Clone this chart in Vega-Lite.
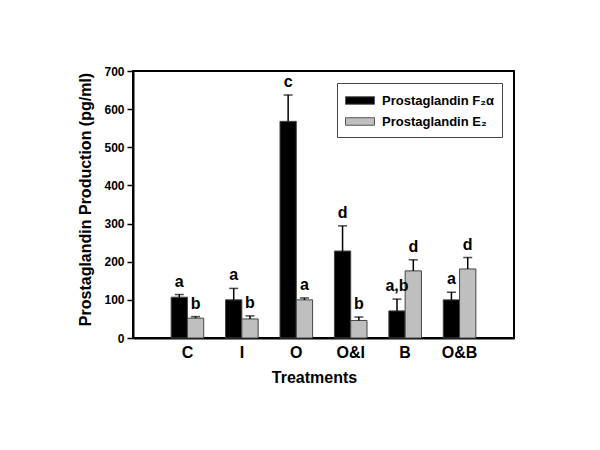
{
  "$schema": "https://vega.github.io/schema/vega-lite/v6.json",
  "autosize": "none",
  "padding": {"left": 133, "top": 71, "right": 86, "bottom": 112},
  "width": 381,
  "height": 267,
  "background": "white",
  "config": {
    "font": "Liberation Sans",
    "view": {"stroke": "black", "strokeWidth": 2},
    "axisY": {
      "grid": false, "tickSize": 6, "tickColor": "black", "tickWidth": 1.5,
      "domainColor": "black", "domainWidth": 2, "labelOverlap": false,
      "labelFontSize": 12, "labelFontWeight": "bold", "labelColor": "black", "labelPadding": 3,
      "titleFontSize": 16, "titleFontWeight": "bold", "titleColor": "black", "titlePadding": 10,
      "titleY": 128
    }
  },
  "data": {
    "values": [
      {"treatment": "C", "series": "Prostaglandin F₂α", "value": 107, "hi": 114, "letter": "a"},
      {"treatment": "C", "series": "Prostaglandin E₂", "value": 52, "hi": 56, "letter": "b"},
      {"treatment": "I", "series": "Prostaglandin F₂α", "value": 100, "hi": 130, "letter": "a"},
      {"treatment": "I", "series": "Prostaglandin E₂", "value": 50, "hi": 58, "letter": "b"},
      {"treatment": "O", "series": "Prostaglandin F₂α", "value": 568, "hi": 637, "letter": "c"},
      {"treatment": "O", "series": "Prostaglandin E₂", "value": 100, "hi": 105, "letter": "a"},
      {"treatment": "O&I", "series": "Prostaglandin F₂α", "value": 228, "hi": 294, "letter": "d"},
      {"treatment": "O&I", "series": "Prostaglandin E₂", "value": 46, "hi": 55, "letter": "b"},
      {"treatment": "B", "series": "Prostaglandin F₂α", "value": 71, "hi": 102, "letter": "a,b"},
      {"treatment": "B", "series": "Prostaglandin E₂", "value": 176, "hi": 205, "letter": "d"},
      {"treatment": "O&B", "series": "Prostaglandin F₂α", "value": 100, "hi": 120, "letter": "a"},
      {"treatment": "O&B", "series": "Prostaglandin E₂", "value": 181, "hi": 211, "letter": "d"}
    ]
  },
  "encoding": {
    "x": {
      "field": "treatment", "type": "nominal",
      "sort": ["C", "I", "O", "O&I", "B", "O&B"],
      "scale": {"paddingInner": 0, "paddingOuter": 0.5},
      "axis": {
        "title": "Treatments", "labelAngle": 0, "ticks": false, "tickSize": 0,
        "domainColor": "black", "domainWidth": 2,
        "labelFontSize": 16, "labelFontWeight": "bold", "labelColor": "black", "labelPadding": 6,
        "titleFontSize": 16, "titleFontWeight": "bold", "titleColor": "black", "titlePadding": 9,
        "titleX": 181
      }
    },
    "xOffset": {
      "field": "series", "type": "nominal",
      "sort": ["Prostaglandin F₂α", "Prostaglandin E₂"],
      "scale": {"paddingInner": 0, "paddingOuter": 0.67}
    }
  },
  "layer": [
    {
      "mark": {"type": "bar", "stroke": "#444", "strokeWidth": 1},
      "encoding": {
        "y": {
          "field": "value", "type": "quantitative",
          "scale": {"domain": [0, 700], "nice": false},
          "axis": {"title": "Prostaglandin Production (pg/ml)", "values": [0, 100, 200, 300, 400, 500, 600, 700]}
        },
        "color": {
          "field": "series", "type": "nominal",
          "scale": {"domain": ["Prostaglandin F₂α", "Prostaglandin E₂"], "range": ["#000000", "#bfbfbf"]},
          "legend": {
            "title": null, "orient": "none", "legendX": 204, "legendY": 12,
            "strokeColor": "#444", "padding": 8,
            "symbolType": "M-1,-0.42H2.22V0.42H-1Z", "symbolSize": 324,
            "symbolStrokeColor": "#555", "symbolStrokeWidth": 1,
            "labelFontSize": 13, "labelFontWeight": "bold", "labelColor": "black",
            "labelOffset": 18, "rowPadding": 4
          }
        }
      }
    },
    {
      "mark": {"type": "rule", "color": "black", "strokeWidth": 1.5},
      "encoding": {
        "y": {"field": "value", "type": "quantitative", "axis": {"title": "Prostaglandin Production (pg/ml)", "values": [0, 100, 200, 300, 400, 500, 600, 700]}},
        "y2": {"field": "hi"}
      }
    },
    {
      "mark": {"type": "tick", "color": "black", "thickness": 1.5, "size": 9},
      "encoding": {
        "y": {"field": "hi", "type": "quantitative", "axis": {"title": "Prostaglandin Production (pg/ml)", "values": [0, 100, 200, 300, 400, 500, 600, 700]}}
      }
    },
    {
      "mark": {"type": "text", "baseline": "bottom", "dy": -5, "fontSize": 16, "fontWeight": "bold", "color": "black"},
      "encoding": {
        "y": {"field": "hi", "type": "quantitative", "axis": {"title": "Prostaglandin Production (pg/ml)", "values": [0, 100, 200, 300, 400, 500, 600, 700]}},
        "text": {"field": "letter"}
      }
    }
  ]
}
